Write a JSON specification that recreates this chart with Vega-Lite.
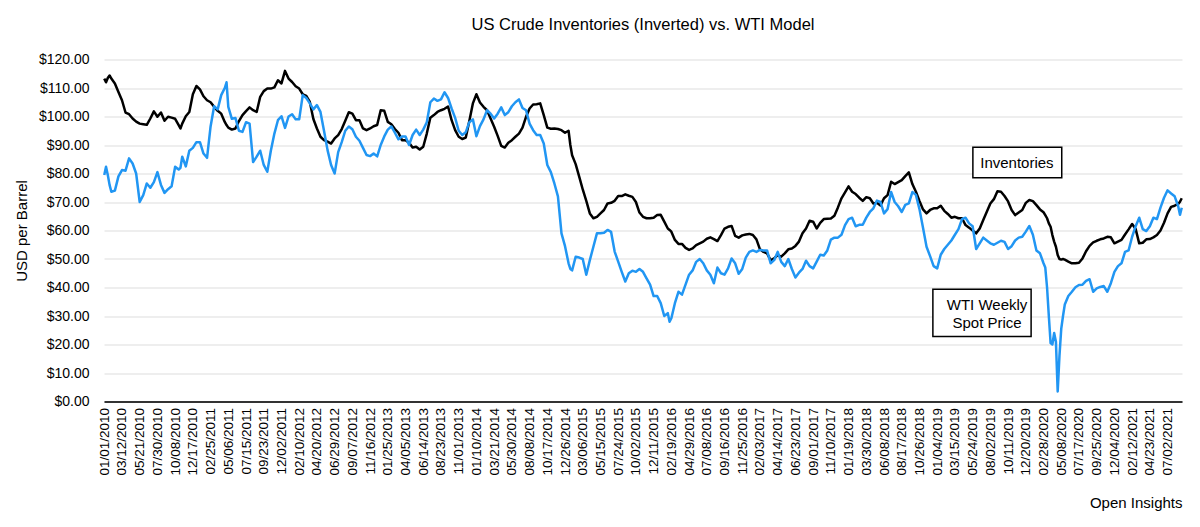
{
"$schema": "https://vega.github.io/schema/vega-lite/v6.json",
"width": 1078, "height": 342,
"autosize": {"type": "none"},
"padding": {"left": 104, "top": 59.5, "right": 18, "bottom": 125.5},
"background": "white",
"title": {"text": "US Crude Inventories (Inverted) vs. WTI Model", "fontSize": 16.5, "font": "Liberation Sans", "fontWeight": "normal", "color": "black", "offset": 19, "anchor": "middle"},
"config": {"view": {"stroke": null}, "font": "Liberation Sans", "axis": {"labelOverlap": false}, "axisX": {"labelOverlap": false}},
"datasets": {
"series": [
{"d":"2010-01-01","inv":113.3,"wti":79.5},
{"d":"2010-01-08","inv":112,"wti":82.4},
{"d":"2010-01-15","inv":113.5,"wti":79.5},
{"d":"2010-01-22","inv":114.4,"wti":76},
{"d":"2010-01-29","inv":113.3,"wti":73.6},
{"d":"2010-02-12","inv":111.6,"wti":74},
{"d":"2010-02-26","inv":108.6,"wti":79},
{"d":"2010-03-12","inv":105.7,"wti":81.2},
{"d":"2010-03-26","inv":101.4,"wti":81},
{"d":"2010-04-09","inv":100.8,"wti":85.3},
{"d":"2010-04-23","inv":99.3,"wti":83.5},
{"d":"2010-05-07","inv":98.2,"wti":80},
{"d":"2010-05-21","inv":97.5,"wti":70},
{"d":"2010-06-04","inv":97.3,"wti":72.4},
{"d":"2010-06-18","inv":97.1,"wti":76.5},
{"d":"2010-07-02","inv":99.3,"wti":75},
{"d":"2010-07-16","inv":101.8,"wti":77},
{"d":"2010-07-30","inv":99.9,"wti":80.5},
{"d":"2010-08-13","inv":101.4,"wti":76},
{"d":"2010-08-27","inv":98.5,"wti":73.2},
{"d":"2010-09-10","inv":99.9,"wti":74.5},
{"d":"2010-09-24","inv":99.6,"wti":75.5},
{"d":"2010-10-08","inv":99.2,"wti":82.4},
{"d":"2010-10-22","inv":97,"wti":81.4},
{"d":"2010-10-29","inv":95.8,"wti":82},
{"d":"2010-11-05","inv":97.5,"wti":85.9},
{"d":"2010-11-19","inv":100.1,"wti":82.5},
{"d":"2010-12-03","inv":101.6,"wti":88},
{"d":"2010-12-17","inv":107.8,"wti":89},
{"d":"2010-12-31","inv":110.7,"wti":91},
{"d":"2011-01-14","inv":109.5,"wti":91},
{"d":"2011-01-28","inv":107.1,"wti":87},
{"d":"2011-02-11","inv":105.7,"wti":85.5},
{"d":"2011-02-25","inv":105,"wti":96.5},
{"d":"2011-03-11","inv":103.4,"wti":103.6},
{"d":"2011-03-25","inv":102,"wti":102.5},
{"d":"2011-04-08","inv":101,"wti":107.5},
{"d":"2011-04-22","inv":98.1,"wti":110},
{"d":"2011-04-29","inv":97,"wti":112},
{"d":"2011-05-06","inv":96.1,"wti":103.4},
{"d":"2011-05-20","inv":95.4,"wti":99.2},
{"d":"2011-06-03","inv":95.8,"wti":99.5},
{"d":"2011-06-17","inv":98.4,"wti":95},
{"d":"2011-07-01","inv":100.5,"wti":94.6},
{"d":"2011-07-15","inv":101.9,"wti":98},
{"d":"2011-07-29","inv":103.2,"wti":97.5},
{"d":"2011-08-12","inv":102.2,"wti":84},
{"d":"2011-08-26","inv":101.6,"wti":85.9},
{"d":"2011-09-09","inv":106.9,"wti":88},
{"d":"2011-09-23","inv":108.9,"wti":83},
{"d":"2011-10-07","inv":109.8,"wti":80.6},
{"d":"2011-10-21","inv":109.8,"wti":88},
{"d":"2011-11-04","inv":110.2,"wti":94},
{"d":"2011-11-18","inv":112.7,"wti":98.7},
{"d":"2011-12-02","inv":111.6,"wti":100.1},
{"d":"2011-12-16","inv":116,"wti":96},
{"d":"2011-12-30","inv":113.3,"wti":100},
{"d":"2012-01-13","inv":112.1,"wti":100.8},
{"d":"2012-01-27","inv":110.6,"wti":99},
{"d":"2012-02-10","inv":109.8,"wti":99},
{"d":"2012-02-24","inv":107.8,"wti":107.5},
{"d":"2012-03-09","inv":107.2,"wti":106.5},
{"d":"2012-03-23","inv":105.1,"wti":104.6},
{"d":"2012-04-06","inv":99.1,"wti":102.5},
{"d":"2012-04-20","inv":95.8,"wti":104},
{"d":"2012-05-04","inv":92.9,"wti":101.6},
{"d":"2012-05-18","inv":91.7,"wti":95},
{"d":"2012-06-01","inv":91.2,"wti":88.2},
{"d":"2012-06-15","inv":90.5,"wti":83},
{"d":"2012-06-29","inv":92.3,"wti":80},
{"d":"2012-07-13","inv":93.5,"wti":87.5},
{"d":"2012-07-27","inv":95.6,"wti":91},
{"d":"2012-08-10","inv":98.5,"wti":95},
{"d":"2012-08-24","inv":101.5,"wti":96.5},
{"d":"2012-09-07","inv":101,"wti":95.5},
{"d":"2012-09-21","inv":98.7,"wti":92.9},
{"d":"2012-10-05","inv":98.7,"wti":91.5},
{"d":"2012-10-19","inv":95.8,"wti":89},
{"d":"2012-11-02","inv":95.2,"wti":86.5},
{"d":"2012-11-16","inv":95.8,"wti":86.1},
{"d":"2012-11-30","inv":96.6,"wti":87},
{"d":"2012-12-14","inv":97,"wti":86},
{"d":"2012-12-28","inv":102.2,"wti":90},
{"d":"2013-01-11","inv":102,"wti":93},
{"d":"2013-01-25","inv":98.1,"wti":95.4},
{"d":"2013-02-08","inv":97.3,"wti":96.5},
{"d":"2013-02-22","inv":95.6,"wti":94.3},
{"d":"2013-03-08","inv":94.3,"wti":92},
{"d":"2013-03-22","inv":91.7,"wti":93},
{"d":"2013-04-05","inv":91.7,"wti":93},
{"d":"2013-04-19","inv":90.8,"wti":90},
{"d":"2013-05-03","inv":89.1,"wti":93.5},
{"d":"2013-05-17","inv":89.4,"wti":95.4},
{"d":"2013-05-31","inv":88.4,"wti":93.5},
{"d":"2013-06-14","inv":89.4,"wti":95.4},
{"d":"2013-06-28","inv":94,"wti":98},
{"d":"2013-07-12","inv":99.6,"wti":105},
{"d":"2013-07-26","inv":100.5,"wti":106.3},
{"d":"2013-08-09","inv":101.6,"wti":105.5},
{"d":"2013-08-23","inv":102.2,"wti":106},
{"d":"2013-09-06","inv":102.7,"wti":108.5},
{"d":"2013-09-20","inv":103.5,"wti":106.5},
{"d":"2013-10-04","inv":98.7,"wti":102.8},
{"d":"2013-10-18","inv":95.2,"wti":99.5},
{"d":"2013-11-01","inv":92.9,"wti":95},
{"d":"2013-11-15","inv":92.1,"wti":93.5},
{"d":"2013-11-29","inv":92.6,"wti":94.5},
{"d":"2013-12-13","inv":98.4,"wti":98},
{"d":"2013-12-27","inv":104.6,"wti":99},
{"d":"2014-01-10","inv":107.8,"wti":93.1},
{"d":"2014-01-24","inv":104.9,"wti":96.6},
{"d":"2014-02-07","inv":103.4,"wti":99},
{"d":"2014-02-21","inv":102.2,"wti":102.2},
{"d":"2014-03-07","inv":99.3,"wti":101},
{"d":"2014-03-21","inv":96.4,"wti":99.3},
{"d":"2014-04-04","inv":93.2,"wti":101},
{"d":"2014-04-18","inv":89.7,"wti":103.2},
{"d":"2014-05-02","inv":89.1,"wti":100.5},
{"d":"2014-05-16","inv":90.8,"wti":101.5},
{"d":"2014-05-30","inv":91.7,"wti":103.6},
{"d":"2014-06-13","inv":92.9,"wti":105},
{"d":"2014-06-27","inv":94,"wti":106},
{"d":"2014-07-11","inv":96.1,"wti":103},
{"d":"2014-07-25","inv":99.9,"wti":102.2},
{"d":"2014-08-08","inv":102.8,"wti":97.5},
{"d":"2014-08-22","inv":104.2,"wti":95.2},
{"d":"2014-09-05","inv":104.3,"wti":93.5},
{"d":"2014-09-19","inv":104.6,"wti":93.5},
{"d":"2014-10-03","inv":100.5,"wti":90.5},
{"d":"2014-10-17","inv":96.1,"wti":83},
{"d":"2014-10-31","inv":95.7,"wti":80.5},
{"d":"2014-11-14","inv":95.8,"wti":76.5},
{"d":"2014-11-28","inv":95.6,"wti":72},
{"d":"2014-12-12","inv":95.2,"wti":59},
{"d":"2014-12-26","inv":94.3,"wti":54.5},
{"d":"2015-01-09","inv":95,"wti":48.5},
{"d":"2015-01-16","inv":90,"wti":46.5},
{"d":"2015-01-23","inv":86.4,"wti":46},
{"d":"2015-02-06","inv":83.3,"wti":50.8},
{"d":"2015-02-20","inv":78.9,"wti":50.5},
{"d":"2015-03-06","inv":74.4,"wti":50},
{"d":"2015-03-20","inv":70.4,"wti":44.5},
{"d":"2015-04-03","inv":66,"wti":49.6},
{"d":"2015-04-17","inv":64.3,"wti":54.3},
{"d":"2015-05-01","inv":64.8,"wti":59},
{"d":"2015-05-15","inv":66,"wti":59},
{"d":"2015-05-29","inv":67.2,"wti":59.2},
{"d":"2015-06-12","inv":69.5,"wti":60.2},
{"d":"2015-06-26","inv":69.7,"wti":59.5},
{"d":"2015-07-10","inv":70.4,"wti":52.6},
{"d":"2015-07-24","inv":72.1,"wti":49.1},
{"d":"2015-08-07","inv":72.1,"wti":45.5},
{"d":"2015-08-21","inv":72.7,"wti":42.1},
{"d":"2015-09-04","inv":72.2,"wti":45},
{"d":"2015-09-18","inv":71.8,"wti":45.9},
{"d":"2015-10-02","inv":70,"wti":45.5},
{"d":"2015-10-16","inv":66.3,"wti":46.5},
{"d":"2015-10-30","inv":64.8,"wti":45.5},
{"d":"2015-11-13","inv":64.3,"wti":43.2},
{"d":"2015-11-27","inv":64.3,"wti":41},
{"d":"2015-12-11","inv":64.5,"wti":37},
{"d":"2015-12-25","inv":65.4,"wti":37},
{"d":"2016-01-08","inv":65.5,"wti":34.5},
{"d":"2016-01-22","inv":63.1,"wti":30},
{"d":"2016-02-05","inv":60.7,"wti":31},
{"d":"2016-02-12","inv":60.2,"wti":28},
{"d":"2016-02-19","inv":59.6,"wti":29.2},
{"d":"2016-03-04","inv":56.7,"wti":34.5},
{"d":"2016-03-18","inv":55.3,"wti":38.5},
{"d":"2016-04-01","inv":55.3,"wti":37.5},
{"d":"2016-04-15","inv":53.9,"wti":41},
{"d":"2016-04-29","inv":53.2,"wti":44.5},
{"d":"2016-05-13","inv":53.7,"wti":46},
{"d":"2016-05-27","inv":54.9,"wti":49},
{"d":"2016-06-10","inv":55.5,"wti":50},
{"d":"2016-06-24","inv":56.1,"wti":48.5},
{"d":"2016-07-08","inv":57.1,"wti":46},
{"d":"2016-07-22","inv":57.6,"wti":44.5},
{"d":"2016-08-05","inv":57,"wti":41.5},
{"d":"2016-08-19","inv":56.3,"wti":47},
{"d":"2016-09-02","inv":58.4,"wti":45},
{"d":"2016-09-16","inv":60.7,"wti":44.5},
{"d":"2016-09-30","inv":61.3,"wti":46.7},
{"d":"2016-10-14","inv":61.6,"wti":50.2},
{"d":"2016-10-28","inv":58.1,"wti":48.5},
{"d":"2016-11-11","inv":57.5,"wti":44.8},
{"d":"2016-11-25","inv":58.3,"wti":46.5},
{"d":"2016-12-09","inv":58.6,"wti":50.5},
{"d":"2016-12-23","inv":58.8,"wti":52.5},
{"d":"2017-01-06","inv":58.4,"wti":53},
{"d":"2017-01-20","inv":56.9,"wti":52.5},
{"d":"2017-02-03","inv":53.4,"wti":53.2},
{"d":"2017-02-17","inv":52.5,"wti":53},
{"d":"2017-03-03","inv":52,"wti":53},
{"d":"2017-03-17","inv":49.6,"wti":48.5},
{"d":"2017-03-31","inv":50.2,"wti":49.6},
{"d":"2017-04-14","inv":51.4,"wti":52.5},
{"d":"2017-04-28","inv":50.8,"wti":49},
{"d":"2017-05-12","inv":52,"wti":47.5},
{"d":"2017-05-26","inv":53.4,"wti":50},
{"d":"2017-06-09","inv":53.7,"wti":46.5},
{"d":"2017-06-23","inv":54.6,"wti":43.5},
{"d":"2017-07-07","inv":56.1,"wti":45.2},
{"d":"2017-07-21","inv":59,"wti":46.5},
{"d":"2017-08-04","inv":60.7,"wti":49.4},
{"d":"2017-08-18","inv":63.4,"wti":47.5},
{"d":"2017-09-01","inv":63.1,"wti":46.7},
{"d":"2017-09-15","inv":60.7,"wti":49.1},
{"d":"2017-09-29","inv":62.7,"wti":51.5},
{"d":"2017-10-13","inv":64,"wti":51.2},
{"d":"2017-10-27","inv":64.1,"wti":53},
{"d":"2017-11-10","inv":64.2,"wti":56.8},
{"d":"2017-11-24","inv":65.2,"wti":57.5},
{"d":"2017-12-08","inv":68.1,"wti":57.5},
{"d":"2017-12-22","inv":71.3,"wti":58.5},
{"d":"2018-01-05","inv":73.4,"wti":61.9},
{"d":"2018-01-19","inv":75.5,"wti":64},
{"d":"2018-02-02","inv":73.6,"wti":64.5},
{"d":"2018-02-16","inv":72.8,"wti":61.5},
{"d":"2018-03-02","inv":71.5,"wti":62},
{"d":"2018-03-16","inv":70.4,"wti":62},
{"d":"2018-03-30","inv":71.7,"wti":64.5},
{"d":"2018-04-13","inv":71.3,"wti":66.5},
{"d":"2018-04-27","inv":69.5,"wti":67.8},
{"d":"2018-05-11","inv":69.7,"wti":70.5},
{"d":"2018-05-25","inv":68.8,"wti":70},
{"d":"2018-06-08","inv":71.3,"wti":66},
{"d":"2018-06-22","inv":72.4,"wti":67.5},
{"d":"2018-07-06","inv":77.1,"wti":73.5},
{"d":"2018-07-20","inv":76.3,"wti":70},
{"d":"2018-08-03","inv":77,"wti":68.5},
{"d":"2018-08-17","inv":77.7,"wti":66.5},
{"d":"2018-08-31","inv":79.1,"wti":69},
{"d":"2018-09-14","inv":80.4,"wti":69.5},
{"d":"2018-09-28","inv":76.3,"wti":73.5},
{"d":"2018-10-12","inv":73.6,"wti":72.5},
{"d":"2018-10-26","inv":70.4,"wti":67.5},
{"d":"2018-11-09","inv":67.4,"wti":61},
{"d":"2018-11-23","inv":66,"wti":54.3},
{"d":"2018-12-07","inv":67.2,"wti":51},
{"d":"2018-12-21","inv":67.8,"wti":47.5},
{"d":"2019-01-04","inv":67.8,"wti":46.7},
{"d":"2019-01-18","inv":68.7,"wti":51.5},
{"d":"2019-02-01","inv":66.9,"wti":53.5},
{"d":"2019-02-15","inv":65.8,"wti":55},
{"d":"2019-03-01","inv":64.5,"wti":56.5},
{"d":"2019-03-15","inv":64.8,"wti":58.5},
{"d":"2019-03-29","inv":64.3,"wti":60.5},
{"d":"2019-04-12","inv":64.3,"wti":64},
{"d":"2019-04-26","inv":61.9,"wti":64.5},
{"d":"2019-05-10","inv":61,"wti":62.5},
{"d":"2019-05-24","inv":60,"wti":61.5},
{"d":"2019-06-07","inv":59,"wti":53.5},
{"d":"2019-06-21","inv":60.7,"wti":55.5},
{"d":"2019-07-05","inv":63.7,"wti":57.5},
{"d":"2019-07-19","inv":66.6,"wti":56.5},
{"d":"2019-08-02","inv":69.5,"wti":55.5},
{"d":"2019-08-16","inv":71,"wti":55},
{"d":"2019-08-30","inv":73.8,"wti":55.7},
{"d":"2019-09-13","inv":73.6,"wti":56.4},
{"d":"2019-09-27","inv":72.1,"wti":56},
{"d":"2019-10-11","inv":70.2,"wti":53.5},
{"d":"2019-10-25","inv":67.2,"wti":54.5},
{"d":"2019-11-08","inv":65.4,"wti":56.5},
{"d":"2019-11-22","inv":66.3,"wti":57.5},
{"d":"2019-12-06","inv":67.2,"wti":57.8},
{"d":"2019-12-20","inv":69.7,"wti":59.6},
{"d":"2020-01-03","inv":70.7,"wti":61.6},
{"d":"2020-01-17","inv":70.3,"wti":58.5},
{"d":"2020-01-31","inv":68.9,"wti":53},
{"d":"2020-02-14","inv":67.4,"wti":52},
{"d":"2020-02-28","inv":66.4,"wti":48.5},
{"d":"2020-03-06","inv":65.4,"wti":47},
{"d":"2020-03-13","inv":64.3,"wti":40},
{"d":"2020-03-20","inv":62.5,"wti":30},
{"d":"2020-03-27","inv":61.3,"wti":20.5},
{"d":"2020-04-03","inv":58.4,"wti":20},
{"d":"2020-04-10","inv":56.1,"wti":24},
{"d":"2020-04-17","inv":54.3,"wti":21},
{"d":"2020-04-24","inv":51.4,"wti":3.5},
{"d":"2020-05-01","inv":50,"wti":16},
{"d":"2020-05-08","inv":49.8,"wti":25.5},
{"d":"2020-05-15","inv":50,"wti":30},
{"d":"2020-05-22","inv":49.8,"wti":34},
{"d":"2020-06-05","inv":49.1,"wti":37},
{"d":"2020-06-19","inv":48.5,"wti":38.5},
{"d":"2020-07-03","inv":48.5,"wti":40.1},
{"d":"2020-07-17","inv":48.7,"wti":40.9},
{"d":"2020-07-31","inv":50.2,"wti":41},
{"d":"2020-08-14","inv":52.7,"wti":42.3},
{"d":"2020-08-28","inv":54.6,"wti":42.9},
{"d":"2020-09-11","inv":55.8,"wti":38.5},
{"d":"2020-09-25","inv":56.4,"wti":39.7},
{"d":"2020-10-09","inv":56.9,"wti":40.2},
{"d":"2020-10-23","inv":57.2,"wti":40.5},
{"d":"2020-11-06","inv":57.8,"wti":38.5},
{"d":"2020-11-20","inv":57.6,"wti":41.5},
{"d":"2020-12-04","inv":55.5,"wti":45.5},
{"d":"2020-12-18","inv":56.1,"wti":47.5},
{"d":"2021-01-01","inv":56.7,"wti":48.5},
{"d":"2021-01-15","inv":58.6,"wti":52.5},
{"d":"2021-01-29","inv":60.4,"wti":53},
{"d":"2021-02-12","inv":62.3,"wti":57.8},
{"d":"2021-02-26","inv":60.5,"wti":61.5},
{"d":"2021-03-12","inv":55.5,"wti":64.5},
{"d":"2021-03-26","inv":55.7,"wti":60.5},
{"d":"2021-04-09","inv":56.9,"wti":59.8},
{"d":"2021-04-23","inv":57,"wti":61.5},
{"d":"2021-05-07","inv":57.6,"wti":64.5},
{"d":"2021-05-21","inv":58.4,"wti":64},
{"d":"2021-06-04","inv":60,"wti":68},
{"d":"2021-06-18","inv":62.7,"wti":71.5},
{"d":"2021-07-02","inv":66,"wti":74.1},
{"d":"2021-07-16","inv":68.3,"wti":73},
{"d":"2021-07-30","inv":68.7,"wti":72},
{"d":"2021-08-13","inv":69.3,"wti":68.5},
{"d":"2021-08-20","inv":70.1,"wti":65.5},
{"d":"2021-08-27","inv":71.3,"wti":68}
],
"boxes": [
{"d":"2019-05-25","d2":"2020-05-10","value":78.5,"value2":89.2},
{"d":"2018-12-18","d2":"2020-01-10","value":22.8,"value2":39.4}
],
"notes": [
{"d":"2019-11-15","value":83.8,"t":"Inventories"},
{"d":"2019-07-20","value":33.9,"t":"WTI Weekly"},
{"d":"2019-07-20","value":27.7,"t":"Spot Price"}
]
},
"encoding": {
"x": {"field": "d", "type": "temporal", "title": "Open Insights",
 "scale": {"type": "utc", "domain": [{"year": 2009, "month": 12, "date": 31, "utc": true}, {"year": 2021, "month": 8, "date": 28, "utc": true}]},
 "axis": {
  "values": [
   {"year":2010,"month":1,"date":1,"utc":true},{"year":2010,"month":3,"date":12,"utc":true},{"year":2010,"month":5,"date":21,"utc":true},{"year":2010,"month":7,"date":30,"utc":true},{"year":2010,"month":10,"date":8,"utc":true},{"year":2010,"month":12,"date":17,"utc":true},
   {"year":2011,"month":2,"date":25,"utc":true},{"year":2011,"month":5,"date":6,"utc":true},{"year":2011,"month":7,"date":15,"utc":true},{"year":2011,"month":9,"date":23,"utc":true},{"year":2011,"month":12,"date":2,"utc":true},
   {"year":2012,"month":2,"date":10,"utc":true},{"year":2012,"month":4,"date":20,"utc":true},{"year":2012,"month":6,"date":29,"utc":true},{"year":2012,"month":9,"date":7,"utc":true},{"year":2012,"month":11,"date":16,"utc":true},
   {"year":2013,"month":1,"date":25,"utc":true},{"year":2013,"month":4,"date":5,"utc":true},{"year":2013,"month":6,"date":14,"utc":true},{"year":2013,"month":8,"date":23,"utc":true},{"year":2013,"month":11,"date":1,"utc":true},
   {"year":2014,"month":1,"date":10,"utc":true},{"year":2014,"month":3,"date":21,"utc":true},{"year":2014,"month":5,"date":30,"utc":true},{"year":2014,"month":8,"date":8,"utc":true},{"year":2014,"month":10,"date":17,"utc":true},{"year":2014,"month":12,"date":26,"utc":true},
   {"year":2015,"month":3,"date":6,"utc":true},{"year":2015,"month":5,"date":15,"utc":true},{"year":2015,"month":7,"date":24,"utc":true},{"year":2015,"month":10,"date":2,"utc":true},{"year":2015,"month":12,"date":11,"utc":true},
   {"year":2016,"month":2,"date":19,"utc":true},{"year":2016,"month":4,"date":29,"utc":true},{"year":2016,"month":7,"date":8,"utc":true},{"year":2016,"month":9,"date":16,"utc":true},{"year":2016,"month":11,"date":25,"utc":true},
   {"year":2017,"month":2,"date":3,"utc":true},{"year":2017,"month":4,"date":14,"utc":true},{"year":2017,"month":6,"date":23,"utc":true},{"year":2017,"month":9,"date":1,"utc":true},{"year":2017,"month":11,"date":10,"utc":true},
   {"year":2018,"month":1,"date":19,"utc":true},{"year":2018,"month":3,"date":30,"utc":true},{"year":2018,"month":6,"date":8,"utc":true},{"year":2018,"month":8,"date":17,"utc":true},{"year":2018,"month":10,"date":26,"utc":true},
   {"year":2019,"month":1,"date":4,"utc":true},{"year":2019,"month":3,"date":15,"utc":true},{"year":2019,"month":5,"date":24,"utc":true},{"year":2019,"month":8,"date":2,"utc":true},{"year":2019,"month":10,"date":11,"utc":true},{"year":2019,"month":12,"date":20,"utc":true},
   {"year":2020,"month":2,"date":28,"utc":true},{"year":2020,"month":5,"date":8,"utc":true},{"year":2020,"month":7,"date":17,"utc":true},{"year":2020,"month":9,"date":25,"utc":true},{"year":2020,"month":12,"date":4,"utc":true},
   {"year":2021,"month":2,"date":12,"utc":true},{"year":2021,"month":4,"date":23,"utc":true},{"year":2021,"month":7,"date":2,"utc":true}
  ],
  "labelExpr": "utcFormat(datum.value, '%m/%d/%Y')",
  "labelAngle": 270, "labelFontSize": 13.5, "labelColor": "black", "labelPadding": 6,
  "labelOverlap": false, "labelFlush": false, "labelBound": false, "labelSeparation": 0,
  "ticks": false, "grid": false, "domainColor": "#333333", "domainWidth": 2,
  "titleAnchor": "end", "titleFontSize": 15, "titleFontWeight": "normal", "titleColor": "black", "titlePadding": 20
 }},
"y": {"field": "value", "type": "quantitative", "title": "USD per Barrel",
 "scale": {"domain": [0, 120], "nice": false, "zero": true},
 "axis": {"values": [0,10,20,30,40,50,60,70,80,90,100,110,120], "format": "$,.2f",
  "grid": true, "gridColor": "#dddddd", "gridWidth": 1, "domain": false, "ticks": false,
  "labelFontSize": 14, "labelColor": "black", "labelPadding": 15,
  "titleFontSize": 15, "titleFontWeight": "normal", "titleColor": "black", "titlePadding": 9}}
},
"layer": [
{
"data": {"name": "series"},
"transform": [{"fold": ["inv", "wti"], "as": ["series", "value"]}],
"mark": {"type": "line", "strokeWidth": 2.5, "strokeJoin": "round"},
"encoding": {
"color": {"field": "series", "type": "nominal", "legend": null,
 "scale": {"domain": ["inv", "wti"], "range": ["black", "#2196f3"]}}
}
},
{
"data": {"name": "boxes"},
"mark": {"type": "rect", "fill": "white", "stroke": "black", "strokeWidth": 1.5},
"encoding": {
"x2": {"field": "d2"},
"y2": {"field": "value2"}
}
},
{
"data": {"name": "notes"},
"mark": {"type": "text", "fontSize": 15, "color": "black", "align": "center", "baseline": "middle", "font": "Liberation Sans"},
"encoding": {
"text": {"field": "t"}
}
}
]
}
